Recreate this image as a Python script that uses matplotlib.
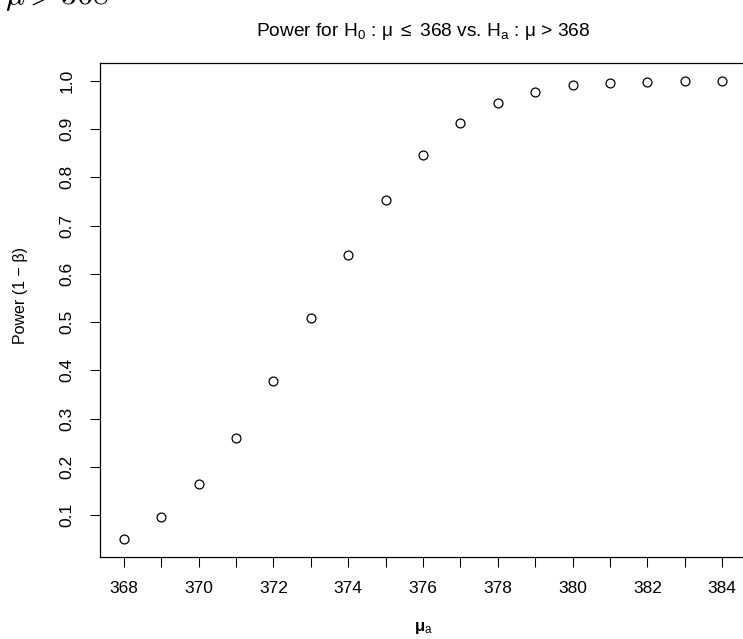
import matplotlib
matplotlib.use("Agg")
import matplotlib.pyplot as plt

plt.rcParams['font.family'] = ['Liberation Sans', 'DejaVu Sans']
plt.rcParams['mathtext.fontset'] = 'custom'
plt.rcParams['mathtext.rm'] = 'Liberation Sans'
plt.rcParams['mathtext.it'] = 'Liberation Sans'
plt.rcParams['mathtext.bf'] = 'Liberation Sans:bold'
plt.rcParams['mathtext.sf'] = 'Liberation Sans'

# Data
mu_a = [368, 369, 370, 371, 372, 373, 374, 375, 376, 377, 378, 379, 380, 381, 382, 383, 384]
power = [0.050, 0.095, 0.164, 0.259, 0.378, 0.509, 0.639, 0.754, 0.847, 0.912,
         0.954, 0.978, 0.991, 0.996, 0.9987, 0.9996, 0.9999]
x_ticks = list(range(368, 385))
x_labels = [str(v) if v % 2 == 0 else "" for v in x_ticks]
y_ticks = [0.1, 0.2, 0.3, 0.4, 0.5, 0.6, 0.7, 0.8, 0.9, 1.0]
y_labels = ["0.1", "0.2", "0.3", "0.4", "0.5", "0.6", "0.7", "0.8", "0.9", "1.0"]

W, H = 743, 639
fig = plt.figure(figsize=(W / 100, H / 100), dpi=100)
left, right, top, bottom = 100, 746, 62.7, 557.4
ax = fig.add_axes([left / W, 1 - bottom / H, (right - left) / W, (bottom - top) / H])

ax.plot(mu_a, power, linestyle='none', marker='o', markersize=6.4,
        markerfacecolor='none', markeredgecolor='black', markeredgewidth=0.9, clip_on=False)

xmin, xmax = min(mu_a), max(mu_a)
ymin, ymax = min(power), max(power)
dx = (xmax - xmin) * 0.04
dy = (ymax - ymin) * 0.04
ax.set_xlim(xmin - dx, xmax + dx)
ax.set_ylim(ymin - dy, ymax + dy)

ax.set_xticks(x_ticks)
ax.set_xticklabels(x_labels)
ax.set_yticks(y_ticks)
ax.set_yticklabels(y_labels, rotation=90, va='center')
ax.tick_params(axis='both', direction='out', length=7.3, width=0.75, labelsize=12.5, colors='black')
ax.tick_params(axis='x', pad=10)
ax.tick_params(axis='y', pad=11)
for s in ax.spines.values():
    s.set_linewidth(0.9)

fig.text((left + right) / 2 / W, 1 - 32 / H,
         r"Power for $\mathrm{H_0}$ : $\mathrm{\mu}$ $\leq$ 368 vs. $\mathrm{H_a}$ : $\mathrm{\mu}$ > 368",
         ha='center', va='center', fontsize=13.8)
fig.text((left + right) / 2 / W, 1 - 628 / H, r"$\mathbf{\mu}_\mathrm{a}$",
         ha='center', va='center', fontsize=12)
fig.text(21 / W, 1 - 296 / H, "Power (1 \u2212 \u03b2)",
         ha='center', va='center', rotation=90, fontsize=11.5)

# cut-off LaTeX fragment at top-left
fig.text(5 / W, 1 - 4 / H, r"$\mu > 368$", ha='left', va='baseline',
         fontsize=23, math_fontfamily='cm')

fig.savefig("out.png", dpi=100)
